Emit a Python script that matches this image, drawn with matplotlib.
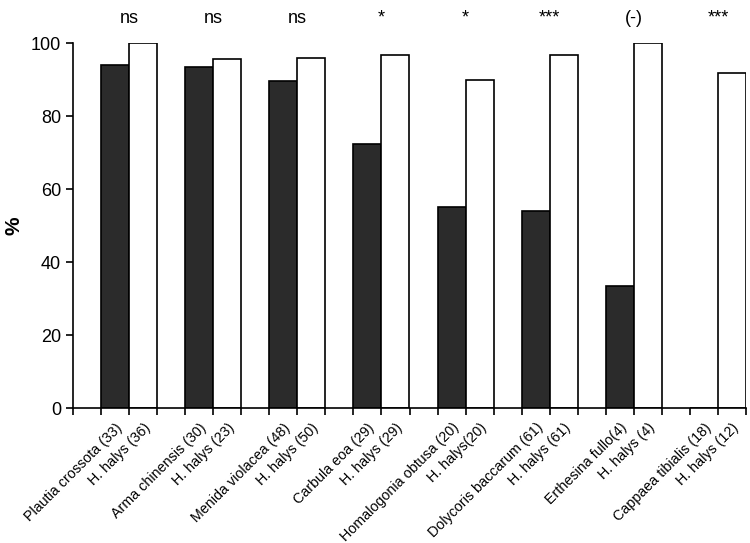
import numpy as np
import matplotlib
matplotlib.use("Agg")
import matplotlib.pyplot as plt

plt.rcParams['font.family'] = ['Liberation Sans', 'DejaVu Sans']

# data
species = ['Plautia crossota (33)', 'Arma chinensis (30)', 'Menida violacea (48)',
           'Carbula eoa (29)', 'Homalogonia obtusa (20)', 'Dolycoris baccarum (61)',
           'Erthesina fullo(4)', 'Cappaea tibialis (18)']
halys = ['H. halys (36)', 'H. halys (23)', 'H. halys (50)', 'H. halys (29)',
         'H. halys(20)', 'H. halys (61)', 'H. halys (4)', 'H. halys (12)']
native_pct = [93.9, 93.3, 89.6, 72.4, 55.0, 54.1, 33.3, 0.0]
halys_pct = [100.0, 95.7, 96.0, 96.6, 90.0, 96.7, 100.0, 91.7]
signif = ['ns', 'ns', 'ns', '*', '*', '***', '(-)', '***']

n = len(species)
x_native = np.arange(n) * 3 + 1.5
x_halys = np.arange(n) * 3 + 2.5

fig = plt.figure(figsize=(7.5, 5.43), dpi=100)
ax = fig.add_axes([0.0973, 0.2486, 0.8974, 0.6722])

ax.bar(x_native, native_pct, width=1.0, color='#2b2b2b', edgecolor='black', linewidth=1.2)
ax.bar(x_halys, halys_pct, width=1.0, color='white', edgecolor='black', linewidth=1.2)

ax.set_xlim(0, 3 * n)
ax.set_ylim(0, 100)
ax.set_yticks([0, 20, 40, 60, 80, 100])
ax.tick_params(axis='y', labelsize=13, length=5, width=1.2, direction='out')

# tick marks on every bar edge, labels at bar centres
ax.set_xticks(np.arange(3 * n + 1), minor=True)
ax.tick_params(axis='x', which='minor', length=5, width=1.2, direction='out')
centers = np.ravel(np.column_stack([x_native, x_halys]))
labels = [lab for pair in zip(species, halys) for lab in pair]
ax.set_xticks(centers)
ax.set_xticklabels(labels, rotation=45, ha='right', rotation_mode='anchor',
                   fontsize=10.3)
ax.tick_params(axis='x', which='major', length=0, pad=9)

for s in ['top', 'right']:
    ax.spines[s].set_visible(False)
for s in ['left', 'bottom']:
    ax.spines[s].set_linewidth(1.2)

ax.set_ylabel('%', fontsize=15, fontweight='bold', labelpad=5)

for i, sig in enumerate(signif):
    ax.text(3 * i + 2, 106.8, sig, ha='center', va='center', fontsize=13, clip_on=False)

fig.savefig('out.png', dpi=100)
